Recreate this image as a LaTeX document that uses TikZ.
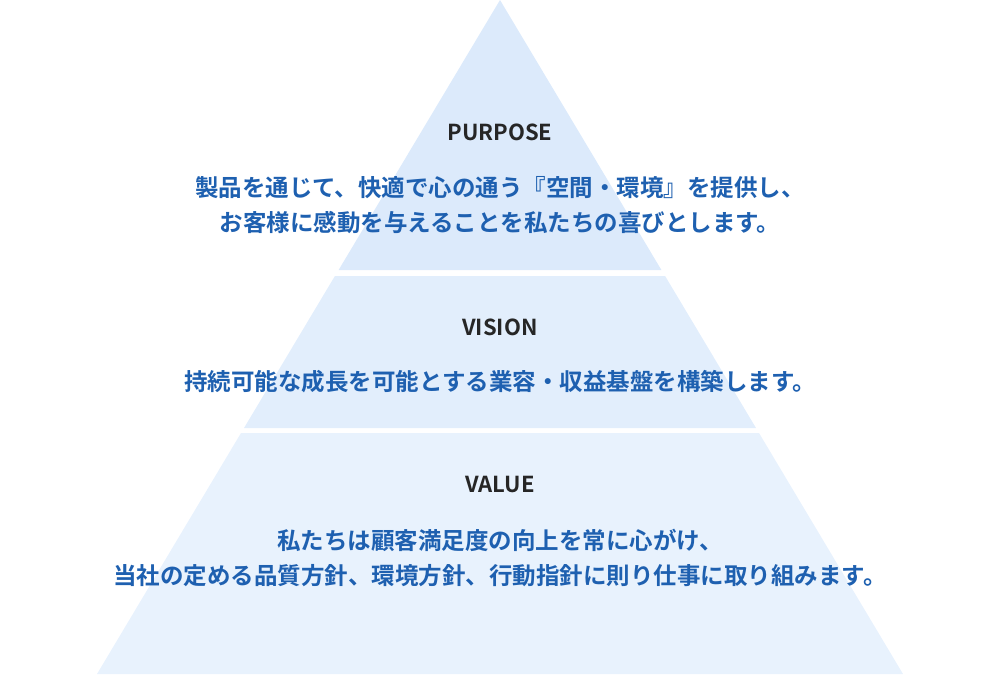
\documentclass[tikz,border=0pt]{standalone}
\usepackage{fontspec}
\setmainfont{Noto Sans CJK JP Bold}
\newfontfamily\headfont{Noto Sans CJK JP Bold}
\definecolor{bandA}{HTML}{DCEAFB}
\definecolor{bandB}{HTML}{E2EEFC}
\definecolor{bandC}{HTML}{E8F2FD}
\definecolor{txtblue}{HTML}{1E60B0}
\tikzset{
  heading/.style={font=\headfont\fontsize{22}{26}\selectfont, text=black!85},
  body/.style={font=\fontsize{23.5}{35}\selectfont, text=txtblue, align=center, inner sep=0pt}
}
\begin{document}
\begin{tikzpicture}[x=1pt,y=-1pt]
\useasboundingbox (0,0) rectangle (1000,674);
\fill[bandA] (500,0) -- (661.4,270) -- (338.6,270) -- cycle;
\fill[bandB] (334.9,276) -- (665.1,276) -- (756,428) -- (244,428) -- cycle;
\fill[bandC] (241,433) -- (759,433) -- (903,674) -- (97,674) -- cycle;
\node[heading] (p) at (500,132) {PURPOSE};
\node[body] (pt) at (500,205) {製品を通じて、快適で心の通う『空間・環境』を提供し、\\お客様に感動を与えることを私たちの喜びとします。};
\node[heading] (v) at (500,327) {VISION};
\node[body] (vt) at (500,382) {持続可能な成長を可能とする業容・収益基盤を構築します。};
\node[heading] (va) at (500,484) {VALUE};
\node[body] (vat) at (500,558) {私たちは顧客満足度の向上を常に心がけ、\\当社の定める品質方針、環境方針、行動指針に則り仕事に取り組みます。};
\end{tikzpicture}
\end{document}
